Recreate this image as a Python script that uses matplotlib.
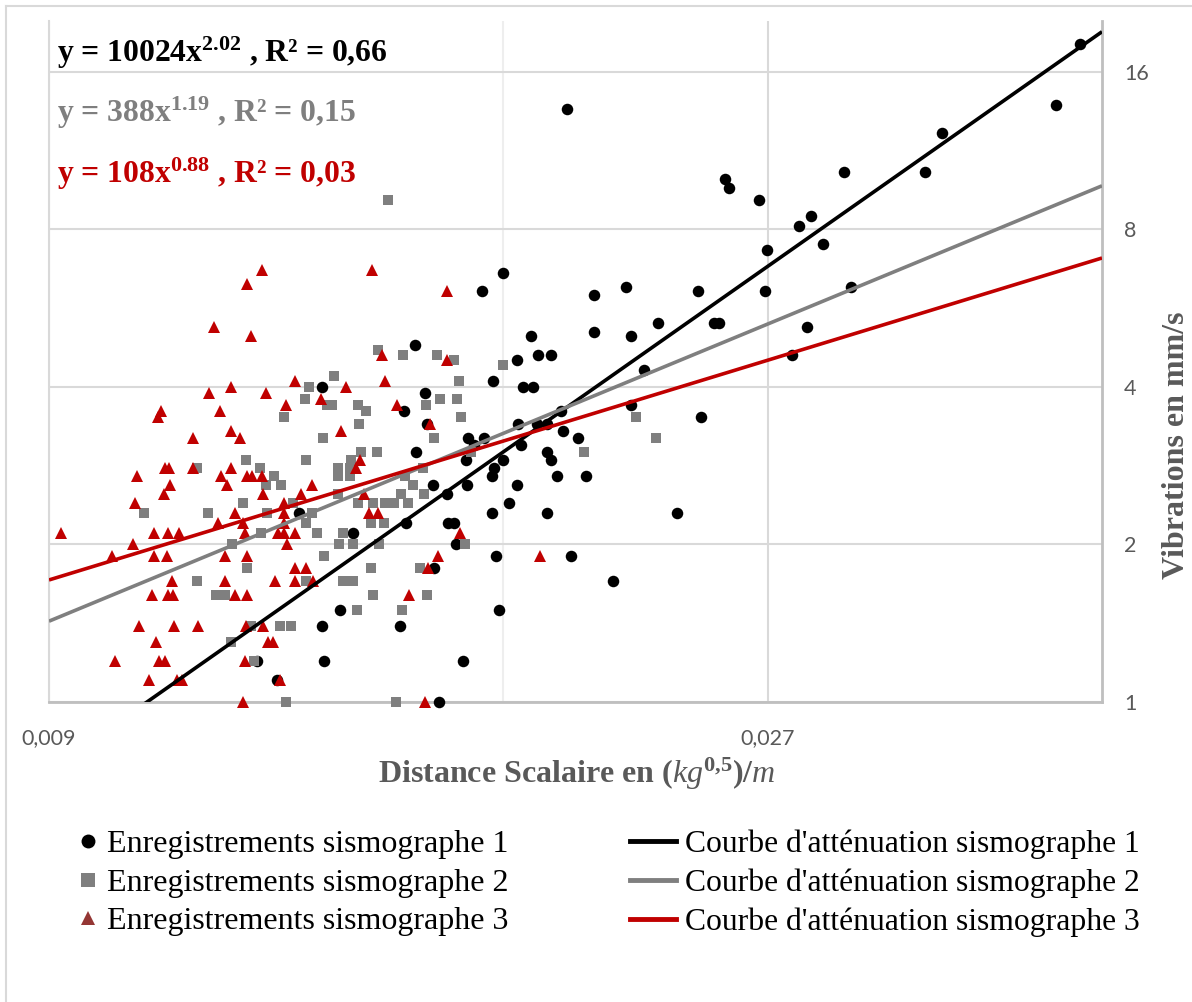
import numpy as np
import matplotlib
matplotlib.use("Agg")
import matplotlib.pyplot as plt
from matplotlib.lines import Line2D

plt.rcParams['font.family'] = ['Liberation Serif', 'DejaVu Sans']
plt.rcParams['mathtext.fontset'] = 'custom'
plt.rcParams['mathtext.rm'] = 'Liberation Serif:bold'
plt.rcParams['mathtext.bf'] = 'Liberation Serif:bold'
plt.rcParams['mathtext.it'] = 'Liberation Serif:italic'

# --- data (scaled distance, vibration mm/s) ---
s1_x = [0.04352, 0.04196, 0.03523, 0.03035, 0.03432, 0.01987, 0.02530, 0.02545, 0.02666, 0.02831,
        0.02886, 0.02937, 0.02696, 0.02690, 0.03067, 0.02866, 0.02800, 0.02488, 0.02506, 0.02425,
        0.02438, 0.02349, 0.02174, 0.02071, 0.02071, 0.02190, 0.02282, 0.02234, 0.02191, 0.02130,
        0.01999, 0.02044, 0.02021, 0.01975, 0.01969, 0.01956, 0.01928, 0.01926, 0.01938, 0.01898,
        0.01926, 0.01901, 0.01938, 0.01880, 0.01858, 0.01886, 0.01840, 0.01842, 0.01840, 0.01851,
        0.01818, 0.01802, 0.01801, 0.01790, 0.01782, 0.01774, 0.01777, 0.01771, 0.01771, 0.01750,
        0.01745, 0.01722, 0.01708, 0.01702, 0.01704, 0.01694, 0.01676, 0.01657, 0.01671, 0.01653,
        0.01634, 0.01622, 0.01619, 0.01603, 0.01599, 0.01578, 0.01575, 0.01554, 0.01548, 0.01538,
        0.01432, 0.01404, 0.01371, 0.01367, 0.01365, 0.01319, 0.01276, 0.01237]
s1_y = [18.1, 13.8, 12.2, 10.3, 10.3, 13.6, 10.0, 9.6, 9.1, 8.1,
        8.5, 7.5, 7.3, 6.1, 6.2, 5.2, 4.6, 5.3, 5.3, 6.1,
        3.5, 2.3, 6.2, 6.0, 5.1, 5.0, 5.3, 4.3, 3.7, 1.7,
        1.9, 2.7, 3.2, 3.3, 3.6, 2.7, 2.3, 3.0, 2.9, 3.4,
        3.4, 4.6, 4.6, 5.0, 4.0, 4.0, 4.5, 3.4, 2.6, 3.1,
        2.4, 6.6, 2.9, 1.5, 1.9, 4.1, 2.8, 2.7, 2.3, 3.2,
        6.1, 3.1, 3.2, 2.9, 2.6, 1.2, 2.0, 2.2, 2.2, 2.5,
        1.0, 1.8, 2.6, 3.4, 3.9, 3.0, 4.8, 2.2, 3.6, 1.4,
        2.1, 1.5, 1.2, 1.4, 4.0, 2.3, 1.1, 1.2]

s2_x = [0.01512, 0.01487, 0.01545, 0.01629, 0.01672, 0.01802, 0.01392, 0.01340, 0.01683, 0.01330,
        0.01637, 0.01678, 0.01376, 0.01388, 0.01443, 0.01460, 0.01602, 0.01288, 0.01690, 0.01446,
        0.01369, 0.01622, 0.01216, 0.01334, 0.01451, 0.01486, 0.01716, 0.01128, 0.01243, 0.01399,
        0.01399, 0.01427, 0.01426, 0.01426, 0.01269, 0.01551, 0.01594, 0.01254, 0.01283, 0.01570,
        0.01541, 0.01597, 0.01399, 0.01210, 0.01306, 0.01444, 0.01477, 0.01503, 0.01526, 0.01559,
        0.01041, 0.01148, 0.01255, 0.01345, 0.01334, 0.01472, 0.01502, 0.01245, 0.01355, 0.01411,
        0.01191, 0.01403, 0.01432, 0.01490, 0.01700, 0.01371, 0.01219, 0.01472, 0.01586, 0.01128,
        0.01333, 0.01411, 0.01433, 0.01162, 0.01178, 0.01477, 0.01605, 0.01442, 0.01543, 0.01226,
        0.01281, 0.01302, 0.01189, 0.01231, 0.01293, 0.01529, 0.02209, 0.02276, 0.02038]
s2_y = [9.1, 4.7, 4.6, 4.6, 4.5, 4.4, 4.2, 4.0, 4.1, 3.8,
        3.8, 3.8, 3.7, 3.7, 3.7, 3.6, 3.7, 3.5, 3.5, 3.4,
        3.2, 3.2, 2.9, 2.9, 3.0, 3.0, 3.0, 2.8, 2.8, 2.8,
        2.7, 2.9, 2.8, 2.7, 2.7, 2.7, 2.8, 2.6, 2.6, 2.6,
        2.5, 2.5, 2.5, 2.4, 2.4, 2.4, 2.4, 2.4, 2.4, 2.4,
        2.3, 2.3, 2.3, 2.3, 2.2, 2.2, 2.2, 2.1, 2.1, 2.1,
        2.0, 2.0, 2.0, 2.0, 2.0, 1.9, 1.8, 1.8, 1.8, 1.7,
        1.7, 1.7, 1.7, 1.6, 1.6, 1.6, 1.6, 1.5, 1.5, 1.4,
        1.4, 1.4, 1.3, 1.2, 1.0, 1.0, 3.5, 3.2, 3.0]

s3_x = [0.01247, 0.01475, 0.01219, 0.01653, 0.01159, 0.01226, 0.01498, 0.01654, 0.01311, 0.01416,
        0.01504, 0.01149, 0.01189, 0.01254, 0.01364, 0.01293, 0.01531, 0.01068, 0.01063, 0.01169,
        0.01406, 0.01610, 0.01121, 0.01189, 0.01205, 0.01448, 0.01439, 0.01075, 0.01082, 0.01121,
        0.01189, 0.01029, 0.01170, 0.01219, 0.01227, 0.01246, 0.01083, 0.01181, 0.01345, 0.01073,
        0.01249, 0.01322, 0.01457, 0.01027, 0.01288, 0.01196, 0.01288, 0.01468, 0.01489, 0.01166,
        0.01211, 0.01288, 0.009167, 0.01057, 0.01080, 0.01098, 0.01214, 0.01277, 0.01289, 0.01311,
        0.01687, 0.01024, 0.01295, 0.009906, 0.01057, 0.01078, 0.01177, 0.01219, 0.01631, 0.01906,
        0.01310, 0.01334, 0.01607, 0.01086, 0.01177, 0.01272, 0.01311, 0.01348, 0.01054, 0.01079,
        0.01088, 0.01196, 0.01218, 0.01560, 0.01032, 0.01090, 0.01131, 0.01217, 0.01249, 0.01060,
        0.01257, 0.01268, 0.009956, 0.01065, 0.01075, 0.01215, 0.01049, 0.01094, 0.01103, 0.01281,
        0.01211, 0.01599]
s3_y = [6.7, 6.7, 6.3, 6.1, 5.2, 5.0, 4.6, 4.5, 4.1, 4.0,
        4.1, 3.9, 4.0, 3.9, 3.8, 3.7, 3.7, 3.6, 3.5, 3.6,
        3.3, 3.4, 3.2, 3.3, 3.2, 2.9, 2.8, 2.8, 2.8, 2.8,
        2.8, 2.7, 2.7, 2.7, 2.7, 2.7, 2.6, 2.6, 2.6, 2.5,
        2.5, 2.5, 2.5, 2.4, 2.4, 2.3, 2.3, 2.3, 2.3, 2.2,
        2.2, 2.2, 2.1, 2.1, 2.1, 2.1, 2.1, 2.1, 2.1, 2.1,
        2.1, 2.0, 2.0, 1.9, 1.9, 1.9, 1.9, 1.9, 1.9, 1.9,
        1.8, 1.8, 1.8, 1.7, 1.7, 1.7, 1.7, 1.7, 1.6, 1.6,
        1.6, 1.6, 1.6, 1.6, 1.4, 1.4, 1.4, 1.4, 1.4, 1.3,
        1.3, 1.3, 1.2, 1.2, 1.2, 1.2, 1.1, 1.1, 1.1, 1.1,
        1.0, 1.0]

# power-law trend lines y = a * x^b
trend_a = [10024, 388, 108]
trend_b = [2.02, 1.19, 0.88]
trend_r2 = ['0,66', '0,15', '0,03']
trend_a_txt = ['10024', '388', '108']
trend_b_txt = ['2.02', '1.19', '0.88']

colors = ['#000000', '#7f7f7f', '#c00000']
markers = ['o', 's', '^']
marker_sizes = [8.3, 7.3, 9.0]
scatter_labels = ['Enregistrements sismographe 1', 'Enregistrements sismographe 2',
                  'Enregistrements sismographe 3']
line_labels = ["Courbe d'atténuation sismographe 1", "Courbe d'atténuation sismographe 2",
               "Courbe d'atténuation sismographe 3"]

xlim = (0.009, 0.045)
ylim = (1, 20)

W, H = 1192, 1002
fig = plt.figure(figsize=(W / 100, H / 100), dpi=100)
ax = fig.add_axes([49 / W, 1 - 702 / H, (1102 - 49) / W, (702 - 21) / H])

series = [(s1_x, s1_y), (s2_x, s2_y), (s3_x, s3_y)]
for i, (xs, ys) in enumerate(series):
    ax.plot(xs, ys, linestyle='none', marker=markers[i], color=colors[i],
            markersize=marker_sizes[i], markeredgewidth=0, zorder=3 + i, clip_on=False)

xl = np.array(xlim)
for i in range(3):
    ax.plot(xl, trend_a[i] * xl ** trend_b[i], color=colors[i], lw=2.6, zorder=7 + i,
            solid_capstyle='butt')

ax.set_xscale('log')
ax.set_yscale('log', base=2)
ax.set_xlim(*xlim)
ax.set_ylim(*ylim)

ax.set_xticks([0.009, 0.027])
ax.set_xticklabels(['0,009', '0,027'])
ax.set_xticks([0.018], minor=True)
ax.xaxis.set_minor_formatter(plt.NullFormatter())
ax.set_yticks([1, 2, 4, 8, 16])
ax.set_yticklabels(['1', '2', '4', '8', '16'])
ax.yaxis.set_minor_locator(plt.NullLocator())
ax.yaxis.tick_right()
ax.tick_params(axis='both', which='both', length=0, labelcolor='#595959', labelsize=15.5)
ax.tick_params(axis='x', pad=19)
ax.tick_params(axis='y', pad=16)
for lab in ax.get_xticklabels() + ax.get_yticklabels():
    lab.set_fontfamily('Lato')

ax.grid(True, which='major', axis='both', color='#d9d9d9', lw=1.5, zorder=0)
ax.grid(True, which='minor', axis='x', color='#eeeeee', lw=1.5, zorder=0)
ax.set_axisbelow(True)
ax.spines['top'].set_visible(False)
ax.spines['left'].set_color('#d9d9d9')
ax.spines['left'].set_linewidth(1.5)
for s in ['bottom', 'right']:
    ax.spines[s].set_color('#bfbfbf')
    ax.spines[s].set_linewidth(2)

# equations
eq_base = [62, 122, 183]
for i in range(3):
    txt = 'y = %sx$^{%s}$ , R² = %s' % (trend_a_txt[i], trend_b_txt[i], trend_r2[i])
    fig.text(57 / W, 1 - eq_base[i] / H, txt, fontsize=22.8, fontweight='bold',
             color=colors[i], va='baseline', ha='left')

# axis titles
fig.text(577 / W, 1 - 774 / H,
         r'Distance Scalaire en $(\mathit{kg}^{0{,}5})/\mathit{m}$',
         fontsize=23, fontweight='bold', color='#595959', ha='center', va='center')
fig.text(1176 / W, 1 - 445 / H, 'Vibrations en mm/s', fontsize=23, fontweight='bold',
         color='#595959', rotation=90, ha='center', va='center')

# legend (two columns)
h_sc = [Line2D([], [], linestyle='none', marker=markers[i], markersize=10,
               markeredgewidth=0, color=(colors[i] if i < 2 else '#943634')) for i in range(3)]
h_ln = [Line2D([], [], color=colors[i], lw=3.5) for i in range(3)]
leg1 = fig.legend(h_sc, scatter_labels, loc='center left', bbox_to_anchor=(78 / W, 1 - 883 / H),
                  frameon=False, fontsize=23, handlelength=0.6, handletextpad=0.32,
                  labelspacing=0.28, borderpad=0, borderaxespad=0)
leg2 = fig.legend(h_ln, line_labels, loc='center left', bbox_to_anchor=(630 / W, 1 - 883 / H),
                  frameon=False, fontsize=22.8, handlelength=1.45, handletextpad=0.3,
                  labelspacing=0.3, borderpad=0, borderaxespad=0)

# chart frame (left and top edges visible)
fig.add_artist(Line2D([6 / W, 6 / W], [0, 1 - 6 / H], transform=fig.transFigure,
                      color='#d9d9d9', lw=1.5))
fig.add_artist(Line2D([6 / W, 1], [1 - 6 / H, 1 - 6 / H], transform=fig.transFigure,
                      color='#d9d9d9', lw=1.5))

fig.savefig('out.png', dpi=100)
